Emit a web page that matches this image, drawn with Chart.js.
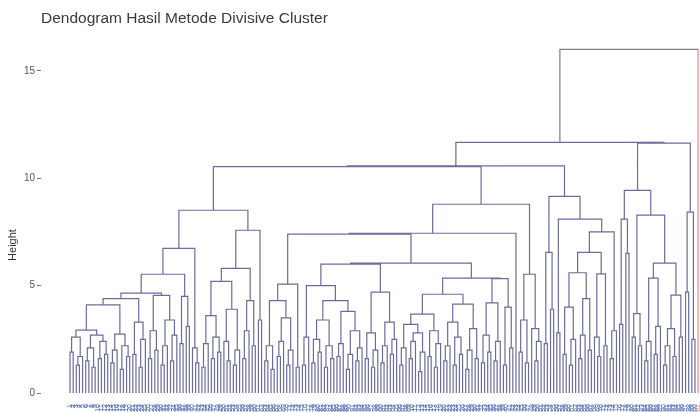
<!DOCTYPE html>
<html>
<head>
<meta charset="utf-8">
<script src="https://cdn.jsdelivr.net/npm/chart.js@4.4.1/dist/chart.umd.min.js"></script>
<style>
  html, body { margin: 0; padding: 0; background: #fff; }
  #wrap { width: 700px; height: 412px; }
</style>
</head>
<body>
<div id="wrap"><canvas id="dend" width="700" height="412"></canvas></div>
<script>
"use strict";

// merge heights: each row is one named group written as (left,right)height,
// plain numbers are leaf labels, names point at another row
const branchRows = [
  ["ROOT", "(A,201)16.0"],
  ["A", "(B,D)11.67"],
  ["B", "(K,J)10.58"],
  ["K", "(G,I)10.54"],
  ["D", "(E,F)11.64"],

  ["G", "(GL,GR)8.51"],
  ["GL", "(GL1,(40,(41,42)1.4)2.1)6.74"],
  ["GL1", "(GL1a,((36,37)2.3,(38,39)3.1)4.5)5.53"],
  ["GL1a", "(X,Y)4.65"],
  ["X", "(X1,((21,22)1.8,((23,24)1.2,25)2.5)3.3)4.4"],
  ["X1", "(X1a,X1b)4.1"],
  ["X1a", "(((1,2)1.9,((3,4)1.3,5)1.7)2.6,(((6,7)1.5,(8,9)1.2)2.1,((10,11)1.6,(12,13)1.8)2.4)2.7)2.93"],
  ["X1b", "(((14,15)1.4,16)2.0,((17,18)1.1,(19,20)1.7)2.2)2.74"],
  ["Y", "(((26,27)1.6,(28,29)2.0)2.9,(((30,31)1.3,32)2.2,((33,34)1.5,35)2.7)3.4)4.55"],
  ["GR", "(Gr1,(61,62)3.4)7.58"],
  ["Gr1", "(Gr1a,(((56,57)1.6,58)2.9,(59,60)2.2)4.3)5.8"],
  ["Gr1a", "(Na213,Na235)5.2"],
  ["Na213", "(((43,44)1.2,45)2.3,((46,47)1.6,(48,49)1.9)2.6)3.6"],
  ["Na235", "((50,(51,52)1.5)2.4,((53,54)1.3,55)2.0)3.9"],

  ["I", "(IL,IR)8.79"],
  ["IL", "(Z,143)7.44"],
  ["Z", "(N288,P)7.40"],
  ["N288", "(Na,(73,74)1.2)5.07"],
  ["Na", "(((63,64)1.5,(65,66)1.1)2.2,(((67,68)1.7,69)2.4,((70,71)1.3,72)2.0)3.5)4.3"],
  ["P", "(Pp,Q)6.05"],
  ["Pp", "(N320,N386)6.0"],
  ["N320", "(((75,76)1.3,77)2.6,C344)5.0"],
  ["C344", "(D1,D2)4.3"],
  ["D1", "(((78,79)1.4,(80,81)1.9)2.5,((82,83)1.2,(84,85)1.6)2.2)3.4"],
  ["D2", "(((86,87)1.7,88)2.3,(((89,90)1.1,91)1.8,((92,93)1.5,94)2.1)2.9)3.8"],
  ["N386", "(((95,96)1.6,((97,98)1.2,99)2.0)2.8,(((100,101)1.4,102)2.2,((103,104)1.8,105)2.5)3.3)4.7"],
  ["Q", "(Qa,Qbc)5.35"],
  ["Qa", "(Qa1,Qa2)4.6"],
  ["Qa1", "(Qa1a,((115,116)1.7,((117,118)1.2,119)2.3)2.9)3.67"],
  ["Qa1a", "(((106,107)1.3,108)2.1,(((109,110)1.6,111)2.4,((112,113)1.0,114)1.9)2.8)3.2"],
  ["Qa2", "((((120,121)1.5,122)2.2,((123,124)1.3,(125,126)1.8)2.6)3.3,(((127,128)1.1,129)2.0,(130,131)1.6)3.0)4.14"],
  ["Qbc", "(Qb,((139,140)1.3,(141,142)2.1)4.0)5.33"],
  ["Qb", "(((132,133)1.4,(134,135)1.9)2.7,((136,137)1.5,138)2.4)4.2"],
  ["IR", "(((144,145)1.9,(146,147)1.4)3.4,(148,((149,150)1.5,151)2.4)3.0)5.53"],

  ["J", "(((152,153)2.3,(154,155)3.9)6.55,JR)9.16"],
  ["JR", "((156,157)2.8,JR2)8.1"],
  ["JR2", "(JR2a,((173,174)1.6,175)2.9)7.5"],
  ["JR2a", "((N568,N588)5.6,((168,(169,170)1.7)2.6,(171,172)2.2)5.55)6.55"],
  ["N568", "((158,159)1.8,((160,161)1.3,162)2.5)4.0"],
  ["N588", "(((163,164)1.6,165)2.7,(166,167)2.0)4.4"],

  ["E", "(((176,177)3.2,(178,179)6.5)8.1,ER)9.44"],
  ["ER", "(((180,181)2.6,(182,183)2.2)3.7,ER2)8.28"],
  ["ER2", "((((184,185)1.5,186)2.4,((187,188)1.8,189)3.1)5.35,ER2b)6.05"],
  ["ER2b", "((((190,191)1.3,192)2.2,(193,194)1.7)3.0,(195,196)2.6)4.56"],
  ["F", "((197,198)4.7,(199,200)2.5)8.42"]
];

const redLeaves = ["201"];
const yTicks = [0, 5, 10, 15];

const branches = new Map(branchRows);

function parseTree(text) {
  let pos = 0;
  function readUntil(stop) {
    const start = pos;
    while (pos < text.length && !stop.includes(text[pos])) pos++;
    return text.slice(start, pos);
  }
  function node() {
    if (text[pos] === "(") {
      pos++;
      const left = node();
      pos++;
      const right = node();
      pos++;
      const height = parseFloat(readUntil(",)"));
      return { left, right, height };
    }
    const name = readUntil(",)");
    if (branches.has(name)) return parseTree(branches.get(name));
    return { label: name, height: 0 };
  }
  return node();
}

const tree = parseTree("ROOT");
const leafLabels = [];

function place(n) {
  if (!n.left) {
    n.x = leafLabels.length;
    leafLabels.push(n.label);
    return;
  }
  place(n.left);
  place(n.right);
  n.x = (n.left.x + n.right.x) / 2;
}
place(tree);

const gap = { x: NaN, y: null };
const mainLines = [];
function collect(n) {
  if (!n.left) return;
  mainLines.push({ x: n.left.x, y: n.left.height }, { x: n.left.x, y: n.height },
    { x: n.right.x, y: n.height }, { x: n.right.x, y: n.right.height }, gap);
  collect(n.left);
  collect(n.right);
}
collect(tree.left);

const rootLines = [
  { x: tree.left.x, y: tree.left.height }, { x: tree.left.x, y: tree.height }, { x: tree.right.x, y: tree.height }
];
const redLines = [{ x: tree.right.x, y: tree.height }, { x: tree.right.x, y: tree.right.height }];

const heightLabel = {
  id: "heightLabel",
  afterDraw(chart) {
    const ctx = chart.ctx;
    ctx.save();
    ctx.translate(13, 245);
    ctx.rotate(-Math.PI / 2);
    ctx.font = "11px 'Liberation Sans', Arial, sans-serif";
    ctx.fillStyle = "#333";
    ctx.textAlign = "center";
    ctx.textBaseline = "middle";
    ctx.fillText("Height", 0, 0);
    ctx.restore();
  }
};

const lineSet = (data, color) => ({
  data, borderColor: color, borderWidth: 1.2, showLine: true, pointRadius: 0,
  spanGaps: false, fill: false, tension: 0, clip: false
});

new Chart(document.getElementById("dend"), {
  type: "scatter",
  data: {
    datasets: [
      lineSet(mainLines, "#696d9c"),
      lineSet(rootLines, "#80808a"),
      lineSet(redLines, "#e58a8a")
    ]
  },
  options: {
    responsive: false,
    animation: false,
    layout: { padding: 0 },
    plugins: {
      legend: { display: false },
      tooltip: { enabled: false },
      title: {
        display: true,
        text: "Dendogram Hasil Metode Divisive Cluster",
        align: "start",
        fullSize: false,
        color: "#3a3a3a",
        font: { family: "'Liberation Sans', Arial, sans-serif", size: 15.5, weight: "normal" },
        padding: { top: 9, bottom: 12.4 }
      }
    },
    scales: {
      x: {
        type: "linear",
        min: -9.24,
        max: 200.6,
        grid: { display: false },
        border: { display: false },
        afterFit: scale => {
          scale.height = 17;
          scale.paddingLeft = 0;
          scale.paddingRight = 0;
        },
        afterBuildTicks: scale => { scale.ticks = leafLabels.map((label, i) => ({ value: i })); },
        ticks: {
          autoSkip: false,
          minRotation: 90,
          maxRotation: 90,
          padding: 1,
          font: { family: "'Liberation Sans', Arial, sans-serif", size: 7 },
          color: ctx => redLeaves.includes(leafLabels[ctx.index]) ? "#e06a6a" : "#4a66b0",
          callback: (value, index) => leafLabels[index]
        }
      },
      y: {
        type: "linear",
        min: -0.093,
        max: 16.44,
        afterFit: scale => { scale.width = 41; },
        afterBuildTicks: scale => { scale.ticks = yTicks.map(v => ({ value: v })); },
        grid: { drawOnChartArea: false, drawTicks: true, tickLength: 4, color: "#777" },
        border: { display: false },
        ticks: {
          padding: 2,
          color: "#555",
          font: { family: "'Liberation Sans', Arial, sans-serif", size: 10 }
        }
      }
    }
  },
  plugins: [heightLabel]
});
</script>
</body>
</html>
